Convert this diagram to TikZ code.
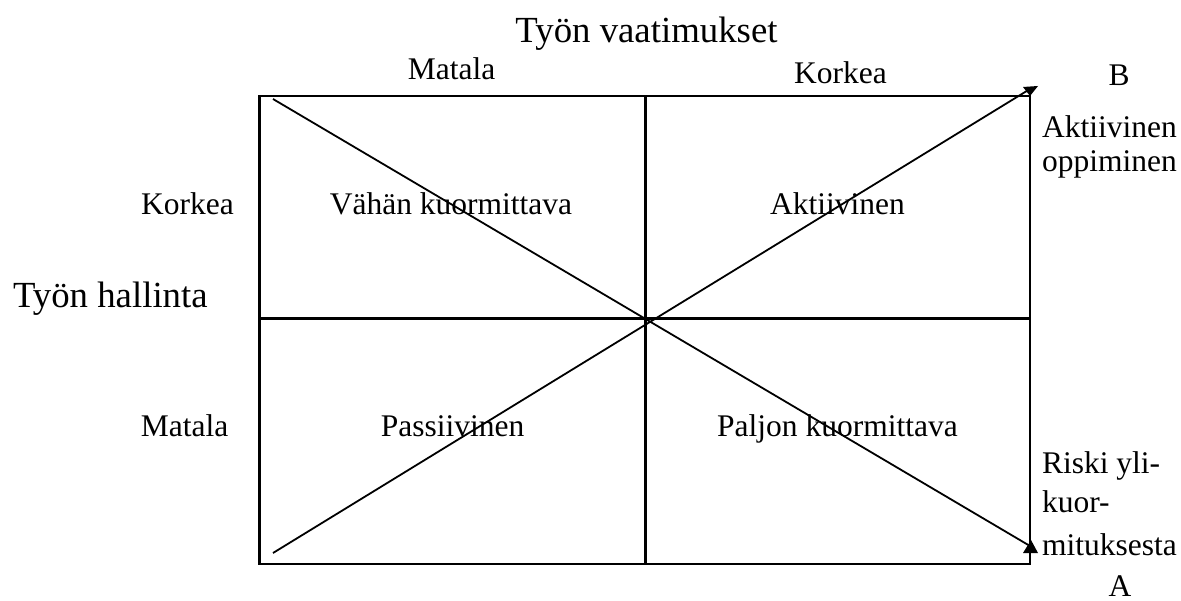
\documentclass[tikz,border=0pt]{standalone}
\usepackage{fontspec}
\setmainfont{Liberation Serif}
\begin{document}
\begin{tikzpicture}[x=1pt,y=-1pt,
  lbl/.style={inner sep=0pt,outer sep=0pt,anchor=base,font=\fontsize{31.5}{36}\selectfont},
  lblw/.style={lbl,anchor=base west},
  big/.style={inner sep=0pt,outer sep=0pt,anchor=base,font=\fontsize{36.8}{42}\selectfont},
  frame/.style={line width=2.4pt},
  diag/.style={line width=1.8pt},
  tip/.style={fill=black}]
\useasboundingbox (0,0) rectangle (1181,601);
% grid
\coordinate (tl) at (259.5,96);
\coordinate (br) at (1030,564);
\coordinate (mt) at (645.5,96);
\coordinate (mb) at (645.5,564);
\coordinate (ml) at (259.5,318.5);
\coordinate (mr) at (1030,318.5);
\draw[frame] (tl) rectangle (br);
\draw[frame] (mt) -- (mb);
\draw[frame] (ml) -- (mr);
% diagonals
\coordinate (d1s) at (273,99);
\coordinate (d1e) at (1030,546);
\coordinate (d2s) at (273,553);
\coordinate (d2e) at (1030,89);
\draw[diag] (d1s) -- (d1e);
\draw[diag] (d2s) -- (d2e);
\fill[tip] (1023,87) -- (1038,86) -- (1030,96) -- cycle;
\fill[tip] (1023,553) -- (1038,553) -- (1031,540) -- cycle;
% labels
\node[big] (title) at (646.5,42.7) {Työn vaatimukset};
\node[lbl] (mtop) at (451.5,80) {Matala};
\node[lbl] (ktop) at (840.5,84) {Korkea};
\node[lbl] (b) at (1119,86) {B};
\node[lblw] (ak1) at (1042,138) {Aktiivinen};
\node[lblw] (ak2) at (1042,172) {oppiminen};
\node[lbl] (kl) at (187.5,215) {Korkea};
\node[big,anchor=base west] (th) at (13,308) {Työn hallinta};
\node[lbl] (ml2) at (184.5,437) {Matala};
\node[lbl] (q1) at (451,215) {Vähän kuormittava};
\node[lbl] (q2) at (837.5,215) {Aktiivinen};
\node[lbl] (q3) at (452.5,437) {Passiivinen};
\node[lbl] (q4) at (837.5,437) {Paljon kuormittava};
\node[lblw] (r1) at (1042,473) {Riski yli-};
\node[lblw] (r2) at (1042,512) {kuor-};
\node[lblw] (r3) at (1042,555) {mituksesta};
\node[lbl] (a) at (1120,596) {A};
\end{tikzpicture}
\end{document}
